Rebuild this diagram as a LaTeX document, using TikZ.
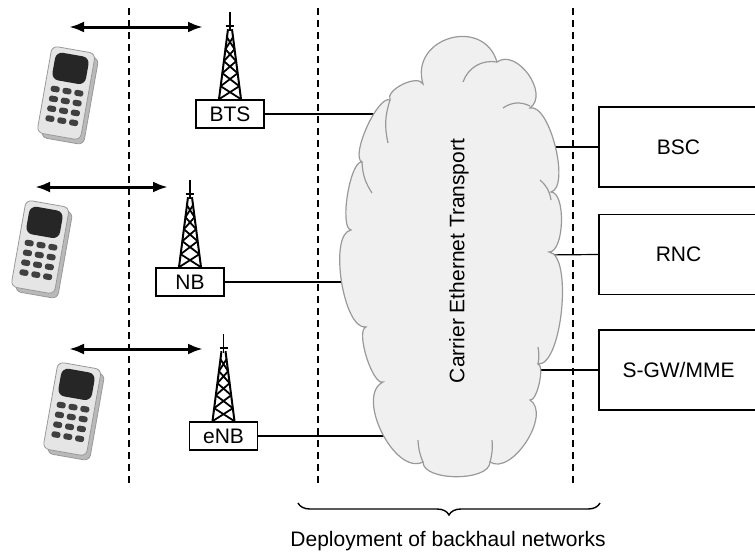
\documentclass[tikz,border=0pt]{standalone}
\usepackage{fontspec}
\setmainfont{Liberation Sans}
\usetikzlibrary{arrows.meta,decorations.pathreplacing}

\tikzset{
  unitbox/.style={draw,line width=0.8pt,minimum width=34pt,minimum height=14pt,inner sep=0pt},
  corebox/.style={draw,line width=0.8pt,minimum width=79.5pt,minimum height=40pt,inner sep=0pt},
  divider/.style={dash pattern=on 3.5pt off 2.5pt,line width=0.7pt},
  link/.style={line width=0.6pt},
  radio/.style={{Latex[length=7.5pt,width=5.5pt]}-{Latex[length=7.5pt,width=5.5pt]},line width=1.5pt},
  cloudline/.style={draw=gray!80,line width=0.6pt},
  bump/.style={bend left=90,looseness=#1},
  % mobile handset, origin at its centre
  handset/.pic={
    \begin{scope}[rotate=-10]
      \filldraw[fill=gray!55,draw=gray!80,rounded corners=3pt] (-17,-41) rectangle (26,47);
      \filldraw[fill=gray!20,draw=gray!80,rounded corners=3pt] (-22,-45) rectangle (22,43);
      \fill[black!85,rounded corners=3.5pt] (-17,-40) rectangle (17,-12);
      \foreach \r in {0,...,3}
        \foreach \c in {0,1,2}
          \fill[black!75,rounded corners=1.2pt] (-16+12*\c,-6+10*\r) rectangle ++(9,6);
    \end{scope}
  },
  % lattice mast, origin at the foot
  mast/.pic={
    \draw[line width=0.9pt] (0,-87) -- (0,-68) (-4,-73) -- (4,-73);
    \draw[line width=1pt] (-2,-70) -- (-11,0) (2,-70) -- (11,0);
    \foreach \ya/\wa/\yb/\wb in {-62/3.03/-50/4.57,-50/4.57/-38/6.11,-38/6.11/-26/7.66,-26/7.66/-13/9.33,-13/9.33/0/11}
      \draw[line width=0.9pt] (-\wa,\ya) -- (\wb,\yb) (\wa,\ya) -- (-\wb,\yb);
  }
}

\begin{document}
\begin{tikzpicture}[x=0.5pt,y=-0.5pt,font=\fontsize{10.5}{12}\selectfont]
\useasboundingbox (0,0) rectangle (755,557);

% zone dividers
\foreach \x in {129,318,573}{\draw[divider] (\x,8) -- (\x,486);}

% handsets and air interface
\pic at (66,94) {handset};
\pic at (40,248) {handset};
\pic at (72,410) {handset};
\coordinate (air1-l) at (69,27);  \coordinate (air1-r) at (203,27);
\coordinate (air2-l) at (35,187); \coordinate (air2-r) at (168,187);
\coordinate (air3-l) at (69,349); \coordinate (air3-r) at (203,349);
\draw[radio] (air1-l) -- (air1-r);
\draw[radio] (air2-l) -- (air2-r);
\draw[radio] (air3-l) -- (air3-r);

% base stations
\node[unitbox] (bts) at (230,114) {BTS};
\node[unitbox] (nb) at (190,282) {NB};
\node[unitbox] (enb) at (223.5,436) {eNB};
\pic at (bts.north) {mast};
\pic at (nb.north) {mast};
\pic at (enb.north) {mast};

% controllers
\node[corebox] (bsc) at (678.5,147) {BSC};
\node[corebox] (rnc) at (678.5,254.5) {RNC};
\node[corebox] (sgw) at (678.5,370) {S-GW/MME};

% attachment points on the cloud
\coordinate (c-bts) at (392,114);
\coordinate (c-nb) at (358,282);
\coordinate (c-enb) at (398,436);
\coordinate (c-bsc) at (540,147);
\coordinate (c-rnc) at (540,255);
\coordinate (c-sgw) at (528,370);
\draw[link] (bts) -- (c-bts);
\draw[link] (nb) -- (c-nb);
\draw[link] (enb) -- (c-enb);
\draw[link] (c-bsc) -- (bsc.west);
\draw[link] (c-rnc) -- (rnc.west);
\draw[link] (c-sgw) -- (sgw.west);

% transport cloud
\filldraw[fill=gray!12,cloudline] (423,84) to[bump=1.6] (497,62) to[bump=1.1] (530,108)
  to[bump=0.6] (551,192) to[bump=0.65] (549,252) to[bump=0.55] (538,364)
  to[bump=0.5] (530,400) to[bump=0.9] (490,462) to[bump=0.75] (423,462)
  to[bump=0.9] (383,382) to[bump=0.5] (366,327) to[bump=0.6] (351,230)
  to[bump=0.45] (362,162) to[bump=0.5] (390,100) to[bump=0.8] (423,84) -- cycle;
\draw[cloudline] (463,82) to[bend left=40] (497,62);
\draw[cloudline] (503,108) to[bend left=30] (530,106);
\draw[cloudline] (540,180) to[bend left=20] (551,200);
\draw[cloudline] (388,143) to[bend left=15] (390,100);
\draw[cloudline] (372,193) to[bend left=15] (362,162);
\draw[cloudline] (538,347) to[bend left=10] (538,364);
\draw[cloudline] (492,440) to[bend left=10] (490,462);
\draw[cloudline] (418,440) to[bend right=10] (423,462);
\node[rotate=90] (cet) at (459,261) {Carrier Ethernet Transport};

% backhaul span
\draw[decorate,decoration={brace,amplitude=6pt,mirror},line width=0.7pt] (298,503) -- (600,503);
\node (deploy) at (448,541) {Deployment of backhaul networks};
\end{tikzpicture}
\end{document}
